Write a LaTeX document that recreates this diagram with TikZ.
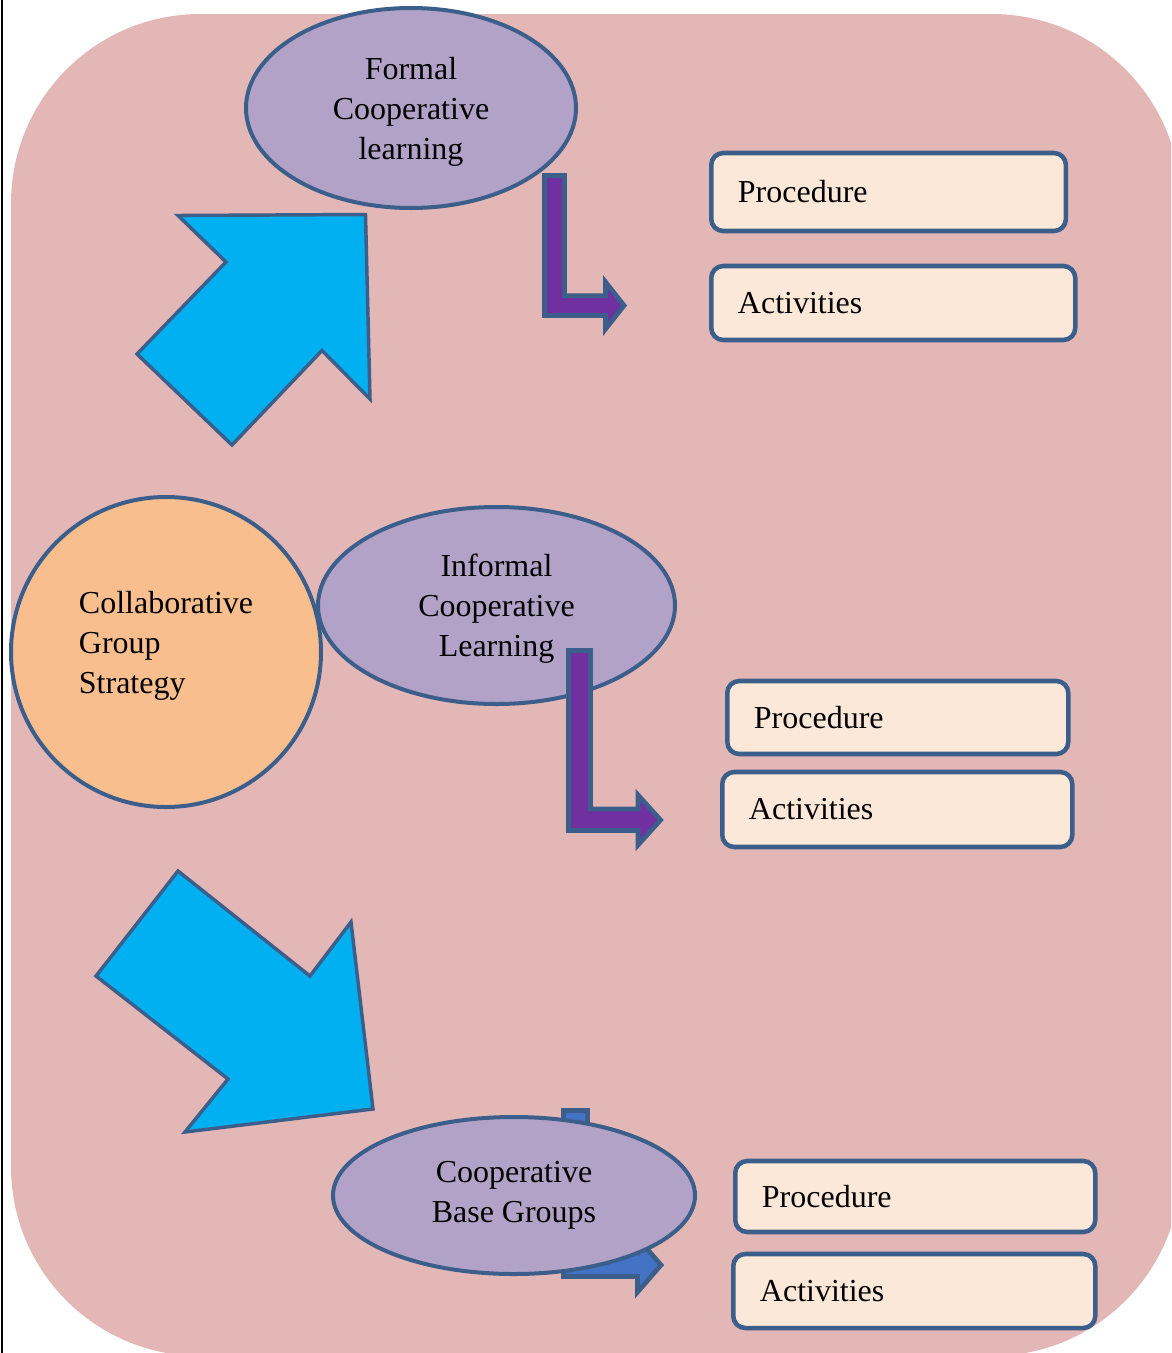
\documentclass[tikz,border=0pt]{standalone}
\usepackage{fontspec}
\setmainfont{Liberation Serif}
\usepackage{tikz}
\usetikzlibrary{shapes.geometric}
\usepackage{xcolor}

\definecolor{bgpink}{HTML}{E4B7B7}
\definecolor{lilac}{HTML}{B3A2C7}
\definecolor{peach}{HTML}{F8BE8E}
\definecolor{cream}{HTML}{FBE8D8}
\definecolor{edgeblue}{HTML}{3B5F8A}
\definecolor{skyblue}{HTML}{00B0F0}
\definecolor{bentpurple}{HTML}{7030A0}
\definecolor{bentblue}{HTML}{4472C4}

\begin{document}
\begin{tikzpicture}[x=0.75pt,y=-0.75pt,line join=miter]
  \tikzstyle{every node}=[font=\fontsize{24}{30}\selectfont]
  \tikzstyle{kind}=[ellipse,draw=edgeblue,line width=3pt,fill=lilac,align=center,inner sep=0pt]
  \tikzstyle{core}=[circle,draw=edgeblue,line width=3pt,fill=peach,align=left,inner sep=0pt,minimum size=232.5pt]
  \tikzstyle{item}=[rectangle,rounded corners=9pt,draw=edgeblue,line width=3.4pt,fill=cream,anchor=west,align=left,inner xsep=20pt]
  \tikzstyle{bigarrow}=[draw=edgeblue,line width=2.6pt,fill=skyblue]
  \tikzstyle{bent}=[draw=edgeblue,line width=3.6pt,fill=bentpurple]

  \useasboundingbox (0,0) rectangle (1171,1353);
  \clip (0,0) rectangle (1171,1353);
  \fill[bgpink,rounded corners=142pt] (11,14) rectangle (1181,1356);
  \draw[line width=1.7pt] (2,0) -- (2,1353);

  % arrow behind the base groups
  \draw[bent,fill=bentblue] (563.5,1110.5) -- (587.5,1110.5) -- (587.5,1253) -- (637.5,1253)
    -- (637.5,1238) -- (661,1265) -- (637.5,1292) -- (637.5,1276.5) -- (563.5,1276.5) -- cycle;

  \node[kind,minimum width=271.5pt,minimum height=117.75pt] (base) at (514,1195.5) {Cooperative\\Base Groups};
  \node[kind,text depth=0pt,minimum width=247.5pt,minimum height=150pt] (formal) at (411,108) {Formal\\Cooperative\\learning};
  \node[kind,text depth=0pt,minimum width=267.75pt,minimum height=147.75pt] (informal) at (496.5,605.5) {Informal\\Cooperative\\Learning};
  \node[core,text depth=14pt] (strategy) at (166,652) {Collaborative\\Group\\Strategy};

  % bent arrows
  \draw[bent] (544.5,175.5) -- (564.5,175.5) -- (564.5,295.8) -- (605.5,295.8)
    -- (605.5,282) -- (624,305.5) -- (605.5,329) -- (605.5,315.5) -- (544.5,315.5) -- cycle;
  \draw[bent] (568.5,650.5) -- (590.5,650.5) -- (590.5,809) -- (638,809)
    -- (638,795) -- (660.5,820) -- (638,845) -- (638,830.5) -- (568.5,830.5) -- cycle;

  % big arrows
  \draw[bigarrow] (178,215.5) -- (365.5,214.5) -- (370,399) -- (322,350.5)
    -- (232,445) -- (137,354) -- (226,262) -- cycle;
  \draw[bigarrow] (178,871) -- (310,976) -- (351,922) -- (373,1109)
    -- (185,1132) -- (228,1079) -- (96,976) -- cycle;

  \node[item,text width=226pt,minimum height=58.5pt] (proc1) at (709,192) {Procedure};
  \node[item,text width=233pt,minimum height=55.5pt] (act1) at (709,303) {Activities};
  \node[item,text width=215.75pt,minimum height=54.75pt] (proc2) at (725,717.5) {Procedure};
  \node[item,text width=222.5pt,minimum height=56.25pt] (act2) at (720,809.5) {Activities};
  \node[item,text width=230pt,minimum height=53.25pt] (proc3) at (733,1196.5) {Procedure};
  \node[item,text width=231.5pt,minimum height=55.5pt] (act3) at (731,1291) {Activities};
\end{tikzpicture}
\end{document}
